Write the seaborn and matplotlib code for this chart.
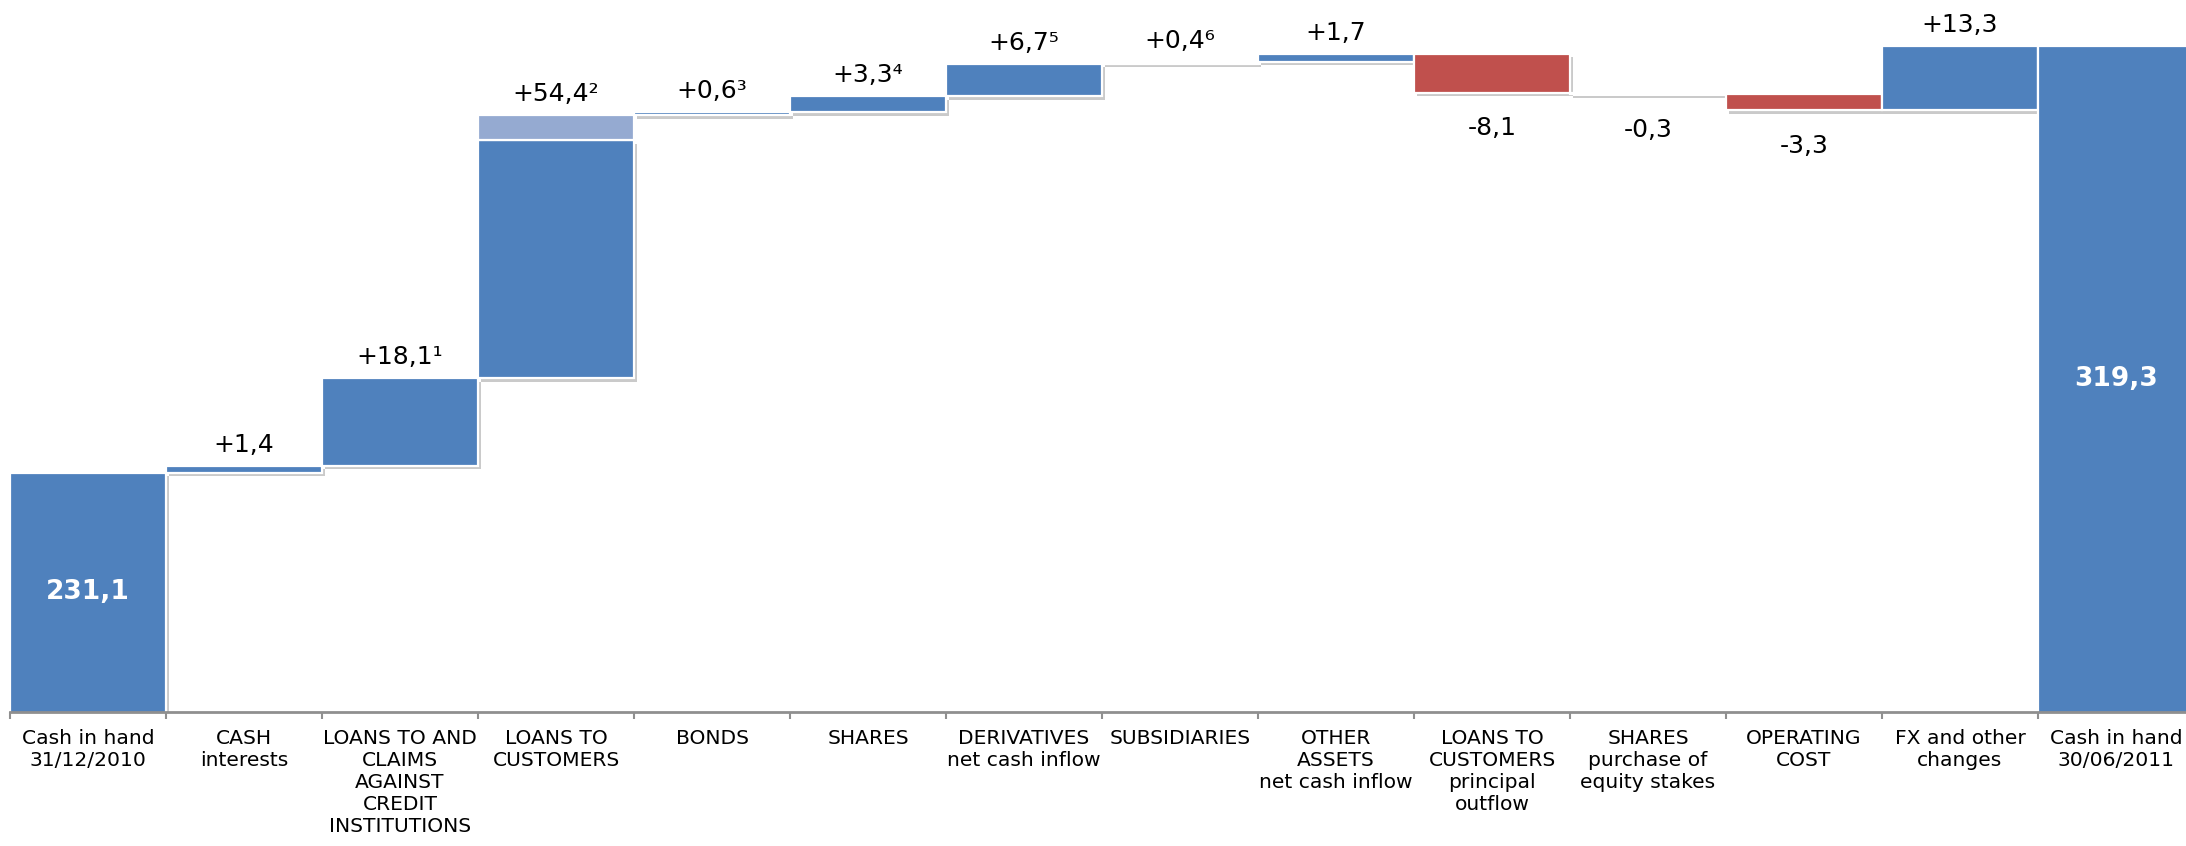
import numpy as np
import pandas as pd
import matplotlib
matplotlib.use("Agg")
import matplotlib.pyplot as plt
import matplotlib.patheffects as pe
import seaborn as sns

# ---------------- data ----------------
categories = [
    "Cash in hand\n31/12/2010",
    "CASH\ninterests",
    "LOANS TO AND\nCLAIMS\nAGAINST\nCREDIT\nINSTITUTIONS",
    "LOANS TO\nCUSTOMERS",
    "BONDS",
    "SHARES",
    "DERIVATIVES\nnet cash inflow",
    "SUBSIDIARIES",
    "OTHER\nASSETS\nnet cash inflow",
    "LOANS TO\nCUSTOMERS\nprincipal\noutflow",
    "SHARES\npurchase of\nequity stakes",
    "OPERATING\nCOST",
    "FX and other\nchanges",
    "Cash in hand\n30/06/2011",
]
values = [231.1, 1.4, 18.1, 54.4, 0.6, 3.3, 6.7, 0.4, 1.7, -8.1, -0.3, -3.3, 13.3, 319.3]
kinds = ["total"] + ["delta"] * 12 + ["total"]
value_labels = ["231,1", "+1,4", "+18,1¹", "+54,4²", "+0,6³", "+3,3⁴", "+6,7⁵",
                "+0,4⁶", "+1,7", "-8,1", "-0,3", "-3,3", "+13,3", "319,3"]
# light-blue upper portion of the LOANS TO CUSTOMERS bar
light_part = [0, 0, 0, 5.2, 0, 0, 0, 0, 0, 0, 0, 0, 0, 0]

BLUE = "#4F81BD"
RED = "#C0504D"
LIGHT = "#95AAD1"
AXIS_GREY = "#8f8f8f"

# ---------------- waterfall geometry from data ----------------
bottoms, heights = [], []
running = 0.0
for v, k in zip(values, kinds):
    if k == "total":
        bottoms.append(0.0)
        heights.append(v)
        running = v
    else:
        if v >= 0:
            bottoms.append(running)
            heights.append(v)
        else:
            bottoms.append(running + v)
            heights.append(-v)
        running += v
dark_heights = [h - l for h, l in zip(heights, light_part)]
light_bottoms = [b + d for b, d in zip(bottoms, dark_heights)]

sns.set_theme(style="white")
plt.rcParams["font.family"] = ["DejaVu Sans"]

fig = plt.figure(figsize=(21.86, 8.46), dpi=100)
ax = fig.add_axes([10 / 2186, 134 / 846, 2184 / 2186, 712 / 846])

shadow = [pe.SimplePatchShadow(offset=(2.5, -2.5), shadow_rgbFace="#8a8a8a", alpha=0.45),
          pe.Normal()]

df = pd.DataFrame({"cat": categories, "height": dark_heights})
sns.barplot(data=df, x="cat", y="height", order=categories, width=1.0,
            color=BLUE, edgecolor="white", linewidth=1.6, errorbar=None, ax=ax)
main_patches = list(ax.patches)
for p, b, v in zip(main_patches, bottoms, values):
    p.set_y(b)
    p.set_facecolor(RED if v < 0 else BLUE)
    p.set_path_effects(shadow)

df_l = pd.DataFrame({"cat": categories, "height": light_part})
sns.barplot(data=df_l, x="cat", y="height", order=categories, width=1.0,
            color=LIGHT, edgecolor="white", linewidth=1.6, errorbar=None, ax=ax)
light_patches = list(ax.patches)[len(main_patches):]
for p, b, l in zip(light_patches, light_bottoms, light_part):
    if l <= 0:
        p.remove()
        continue
    p.set_y(b)
    p.set_facecolor(LIGHT)

y_min, y_max = 181.6, 328.8
ax.set_xlim(-0.5, 13.5)
ax.set_ylim(y_min, y_max)

# ---------------- value labels ----------------
for i, (v, k, b, h, lab) in enumerate(zip(values, kinds, bottoms, heights, value_labels)):
    if k == "total":
        ax.text(i, (y_min + v) / 2, lab, ha="center", va="center",
                color="white", fontsize=19, fontweight="bold")
    elif v >= 0:
        ax.annotate(lab, xy=(i, b + h), xytext=(0, 10), textcoords="offset points",
                    ha="center", va="baseline", fontsize=18, color="black")
    else:
        ax.annotate(lab, xy=(i, b), xytext=(0, -17), textcoords="offset points",
                    ha="center", va="top", fontsize=18, color="black")

# ---------------- axes styling ----------------
for s in ["top", "right", "left"]:
    ax.spines[s].set_visible(False)
ax.spines["bottom"].set_color(AXIS_GREY)
ax.spines["bottom"].set_linewidth(2)
ax.set_yticks([])
ax.set_xticks(range(len(categories)))
ax.set_xticklabels(categories, fontsize=14.6, color="black", linespacing=1.2)
ax.set_xticks(np.arange(-0.5, len(categories), 1), minor=True)
ax.tick_params(axis="x", which="major", length=0, pad=12)
ax.tick_params(axis="x", which="minor", length=5, width=1.5, color=AXIS_GREY,
               direction="out", bottom=True)
ax.set_xlabel("")
ax.set_ylabel("")

fig.savefig("out.png", dpi=100)
